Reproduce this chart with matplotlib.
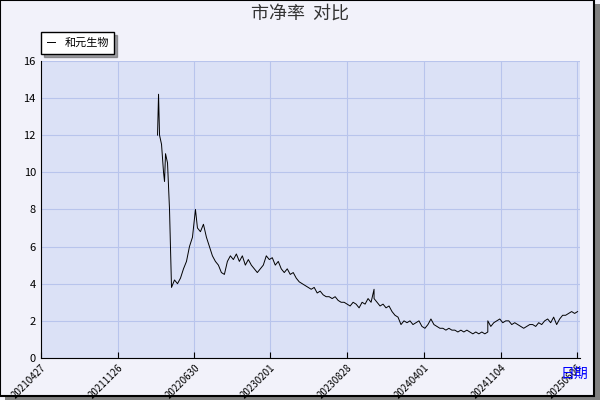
import matplotlib
matplotlib.use("Agg")
from matplotlib import pyplot as plt
from matplotlib.patches import Rectangle

plt.rcParams['font.family'] = ['Noto Sans CJK SC', 'DejaVu Sans']

# 刻度标签（等间距，按交易日序号）
tick_labels = ["20210427", "20211126", "20220630", "20230201",
               "20230828", "20240401", "20241104", "20250606"]
tick_pos = [0, 77, 154, 230, 307, 384, 461, 537]

# 和元生物 市净率（交易日序号, 数值）
days = [117, 118, 119, 121, 123, 124, 125, 127, 129, 131, 134, 137, 140, 143, 146,
        149, 152, 155, 157, 160, 163, 166, 169, 172, 175, 178, 181, 184, 187, 190,
        193, 196, 199, 202, 205, 208, 211, 214, 217, 220, 223, 226, 229, 232, 235,
        238, 241, 244, 247, 250, 253, 256, 259, 262, 265, 268, 271, 274, 277, 280,
        283, 286, 289, 292, 295, 298, 301, 304, 307, 310, 313, 316, 319, 322, 325,
        328, 331, 334, 334, 337, 340, 343, 346, 349, 352, 355, 358, 361, 364, 367,
        370, 373, 376, 379, 382, 385, 388, 391, 394, 397, 400, 403, 406, 409, 412,
        415, 418, 421, 424, 427, 430, 433, 436, 439, 442, 445, 448, 448, 451, 454,
        457, 460, 463, 466, 469, 472, 475, 478, 481, 484, 487, 490, 493, 496, 499,
        502, 505, 508, 511, 514, 517, 520, 523, 526, 529, 532, 535, 538]
pb = [12.0, 14.2, 12.0, 11.5, 10.0, 9.5, 11.0, 10.5, 8.0, 3.8, 4.2, 4.0, 4.3, 4.8, 5.2,
      6.0, 6.5, 8.0, 7.0, 6.8, 7.2, 6.5, 6.0, 5.5, 5.2, 5.0, 4.6, 4.5, 5.2, 5.5,
      5.3, 5.6, 5.2, 5.5, 5.0, 5.3, 5.0, 4.8, 4.6, 4.8, 5.0, 5.5, 5.3, 5.4, 5.0,
      5.2, 4.8, 4.6, 4.8, 4.5, 4.6, 4.3, 4.1, 4.0, 3.9, 3.8, 3.7, 3.8, 3.5, 3.6,
      3.4, 3.3, 3.3, 3.2, 3.3, 3.1, 3.0, 3.0, 2.9, 2.8, 3.0, 2.9, 2.7, 3.0, 2.9,
      3.2, 3.0, 3.7, 3.2, 3.0, 2.8, 2.9, 2.7, 2.8, 2.5, 2.3, 2.2, 1.8, 2.0, 1.9,
      2.0, 1.8, 1.9, 2.0, 1.7, 1.6, 1.8, 2.1, 1.8, 1.7, 1.6, 1.6, 1.5, 1.6, 1.5,
      1.5, 1.4, 1.5, 1.4, 1.5, 1.4, 1.3, 1.4, 1.3, 1.4, 1.3, 1.4, 2.0, 1.7, 1.9,
      2.0, 2.1, 1.9, 2.0, 2.0, 1.8, 1.9, 1.8, 1.7, 1.6, 1.7, 1.8, 1.8, 1.7, 1.9,
      1.8, 2.0, 2.1, 1.9, 2.2, 1.8, 2.1, 2.3, 2.3, 2.4, 2.5, 2.4, 2.5]

fig = plt.figure(figsize=(6, 4), dpi=100, facecolor="#f2f2fa")
# 外框和阴影
fig.patches.append(Rectangle((0.008, 0.0), 0.992, 0.99, transform=fig.transFigure,
                             facecolor="#808080", edgecolor="none", zorder=-2))
fig.patches.append(Rectangle((0.0, 0.01), 0.99, 0.99, transform=fig.transFigure,
                             facecolor="#f2f2fa", edgecolor="black", lw=1.5, zorder=-1))

ax = fig.add_axes([0.068, 0.105, 0.898, 0.743])
ax.set_facecolor("#dbe1f6")
ax.plot(days, pb, color="black", lw=0.7, label="和元生物")
ax.set_xlim(0, 540)
ax.set_ylim(0, 16)
ax.set_yticks(range(0, 17, 2))
ax.set_xticks(tick_pos)
ax.set_xticklabels(tick_labels, rotation=45, ha="right", rotation_mode="anchor", fontsize=7)
ax.tick_params(axis="y", labelsize=8, length=0)
ax.tick_params(axis="x", length=4, direction="in")
ax.grid(color="#b8c4ec", lw=0.8)
for side in ["top", "right"]:
    ax.spines[side].set_visible(False)

fig.text(0.5, 0.965, "市净率  对比", ha="center", va="center", fontsize=13, color="#333333")
fig.text(0.958, 0.055, "日期", color="blue", fontsize=10, ha="center")
leg = ax.legend(loc="lower left", bbox_to_anchor=(-0.01, 1.005), fontsize=8,
                handlelength=0.8, fancybox=False, shadow=True, framealpha=1,
                edgecolor="black", borderpad=0.5)

fig.savefig("out.png", facecolor=fig.get_facecolor())
